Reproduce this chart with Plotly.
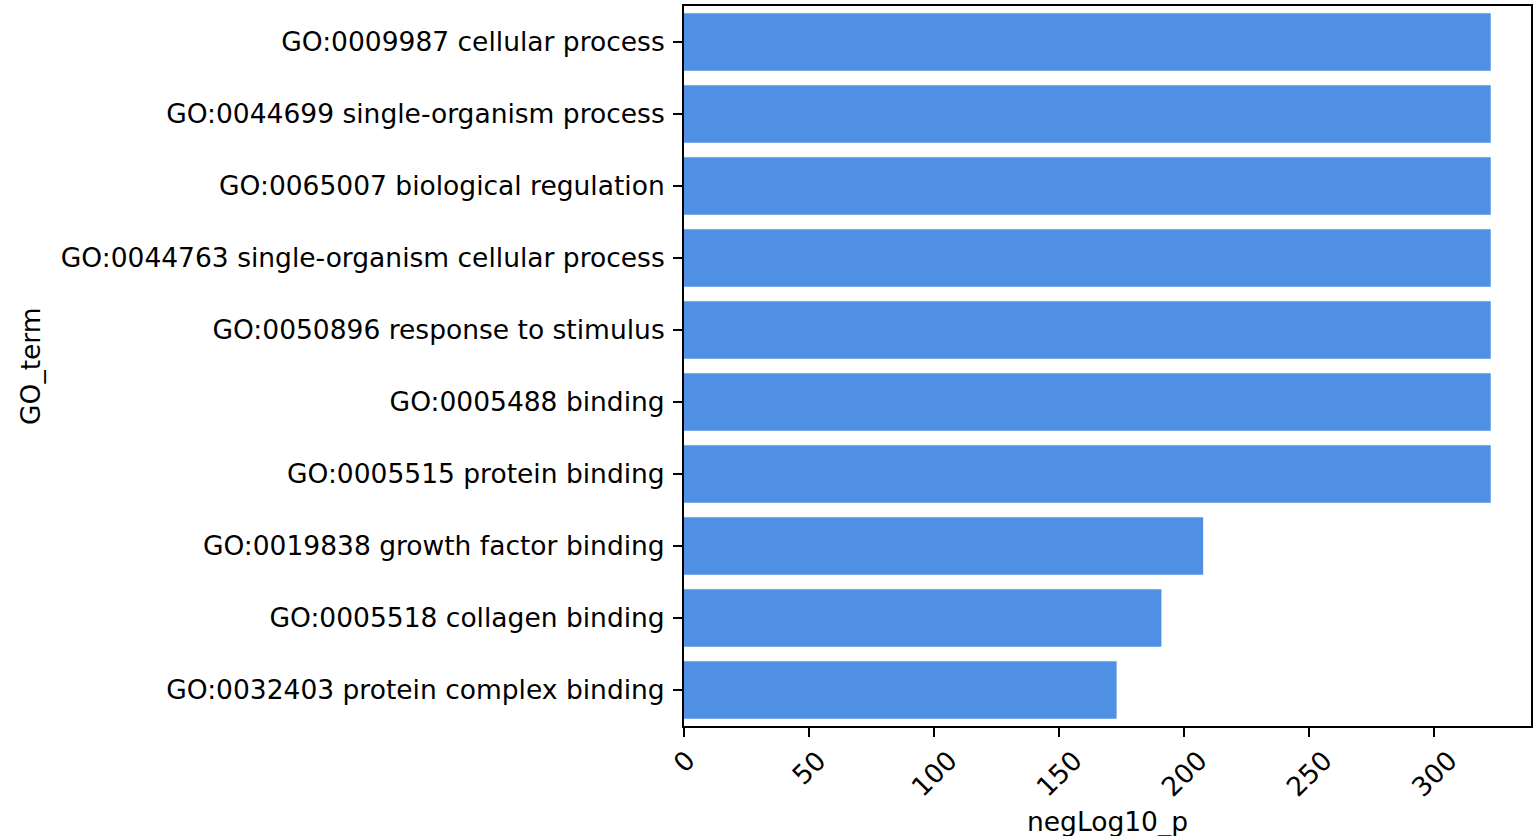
import plotly.graph_objects as go

go_terms = [
    "GO:0009987 cellular process",
    "GO:0044699 single-organism process",
    "GO:0065007 biological regulation",
    "GO:0044763 single-organism cellular process",
    "GO:0050896 response to stimulus",
    "GO:0005488 binding",
    "GO:0005515 protein binding",
    "GO:0019838 growth factor binding",
    "GO:0005518 collagen binding",
    "GO:0032403 protein complex binding",
]
neg_log10_p = [322.6, 322.6, 322.6, 322.6, 322.6, 322.6, 322.6, 207.6, 190.9, 173.0]
x_ticks = [0, 50, 100, 150, 200, 250, 300]
x_tick_labels = ["0", "50", "100", "150", "200", "250", "300"]

FONT = "DejaVu Sans"
FS = 26.5
BAR_COLOR = "#4f90e5"

fig = go.Figure(
    go.Bar(
        x=neg_log10_p,
        y=go_terms,
        orientation="h",
        marker=dict(color=BAR_COLOR, line=dict(width=0)),
        width=0.8,
    )
)

annotations = []
for v, lab in zip(x_ticks, x_tick_labels):
    annotations.append(dict(
        x=v, y=0, xref="x", yref="paper", text=lab, showarrow=False,
        textangle=-45, xanchor="center", yanchor="top", yshift=-16,
        font=dict(family=FONT, size=FS, color="black"),
    ))
annotations.append(dict(
    x=0.5, y=0, xref="paper", yref="paper", text="negLog10_p", showarrow=False,
    xanchor="center", yanchor="top", yshift=-78,
    font=dict(family=FONT, size=FS, color="black"),
))
annotations.append(dict(
    x=0, y=0.5, xref="paper", yref="paper", text="GO_term", showarrow=False,
    textangle=-90, xanchor="center", yanchor="middle", xshift=-654,
    font=dict(family=FONT, size=FS, color="black"),
))

fig.update_layout(
    width=1535, height=836,
    margin=dict(l=684, r=2, t=6, b=110, pad=0),
    paper_bgcolor="white", plot_bgcolor="white",
    showlegend=False,
    font=dict(family=FONT, size=FS, color="black"),
    annotations=annotations,
    xaxis=dict(
        range=[0, 338.7], tickmode="array", tickvals=x_ticks,
        showticklabels=False, ticks="outside", ticklen=9, tickwidth=2,
        tickcolor="black", showline=True, linecolor="black", linewidth=2,
        mirror=True, showgrid=False, zeroline=False,
    ),
    yaxis=dict(
        type="category", categoryorder="array", categoryarray=go_terms,
        range=[9.5, -0.5], ticks="outside", ticklen=9, tickwidth=2,
        tickcolor="black", showline=True, linecolor="black", linewidth=2,
        mirror=True, showgrid=False, zeroline=False, ticklabelstandoff=3,
        tickfont=dict(family=FONT, size=FS, color="black"),
    ),
)

fig.write_html(
    "out.html",
    config={"displayModeBar": False},
    post_script="document.body.style.margin='0';document.body.style.overflow='hidden';",
)
